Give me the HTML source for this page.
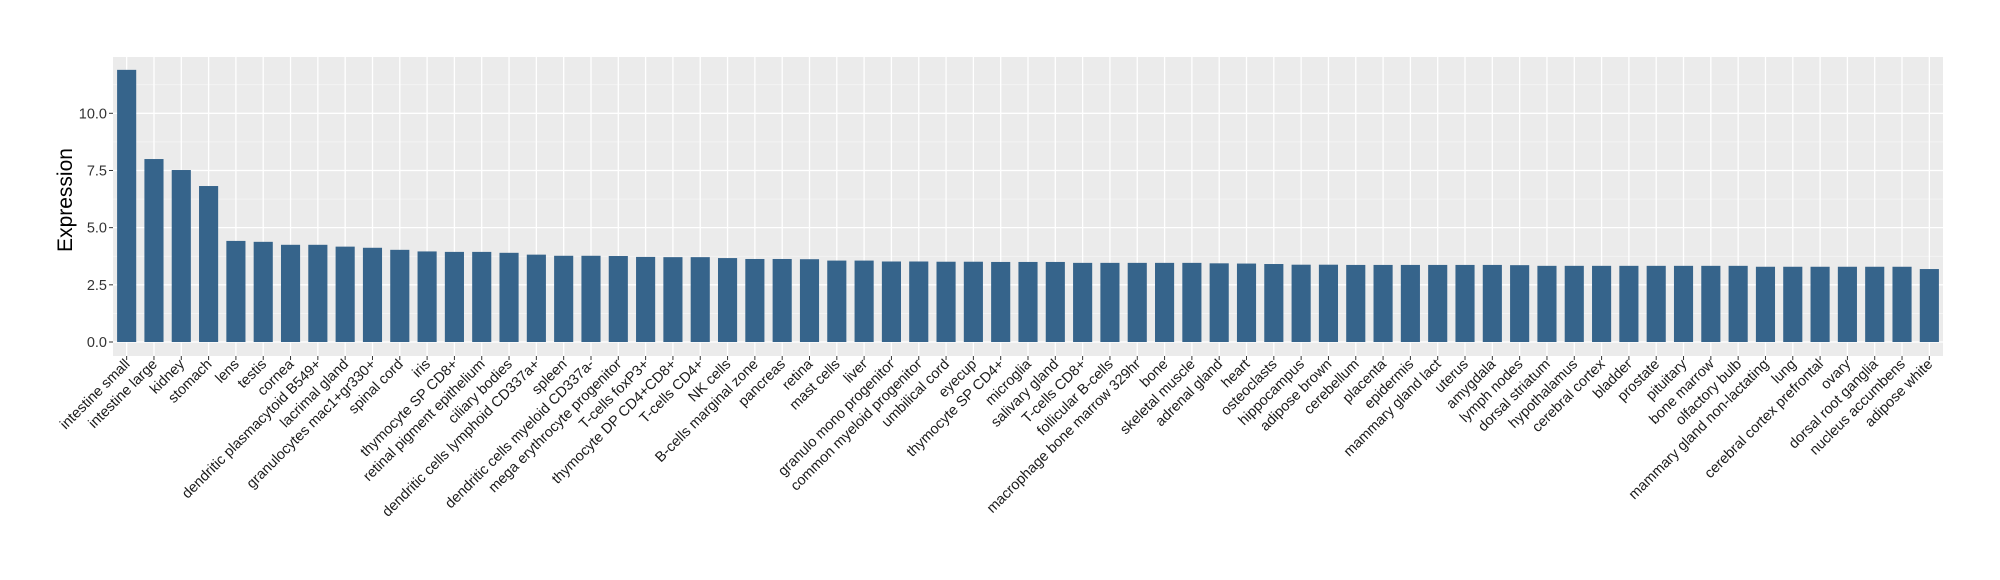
<!DOCTYPE html>
<html><head><meta charset="utf-8"><style>
html,body{margin:0;padding:0;background:#fff;}
svg{display:block;font-family:"Liberation Sans",Arial,sans-serif;}
</style></head><body>
<svg id="chart" width="2000" height="580" xmlns="http://www.w3.org/2000/svg">
<rect x="113" y="57" width="1830" height="299" fill="#ebebeb"/>
<g id="grid"></g>
<g id="bars"></g>
<g id="yaxis"></g>
<g id="xaxis"></g>
<text x="0" y="0" transform="translate(72,200) rotate(-90)" text-anchor="middle" font-size="21" fill="#000">Expression</text>
</svg>
<script>
const categories = ["intestine small","intestine large","kidney","stomach","lens","testis","cornea","dendritic plasmacytoid B549+","lacrimal gland","granulocytes mac1+gr330+","spinal cord","iris","thymocyte SP CD8+","retinal pigment epithelium","ciliary bodies","dendritic cells lymphoid CD337a+","spleen","dendritic cells myeloid CD337a-","mega erythrocyte progenitor","T-cells foxP3+","thymocyte DP CD4+CD8+","T-cells CD4+","NK cells","B-cells marginal zone","pancreas","retina","mast cells","liver","granulo mono progenitor","common myeloid progenitor","umbilical cord","eyecup","thymocyte SP CD4+","microglia","salivary gland","T-cells CD8+","follicular B-cells","macrophage bone marrow 329hr","bone","skeletal muscle","adrenal gland","heart","osteoclasts","hippocampus","adipose brown","cerebellum","placenta","epidermis","mammary gland  lact","uterus","amygdala","lymph nodes","dorsal striatum","hypothalamus","cerebral cortex","bladder","prostate","pituitary","bone marrow","olfactory bulb","mammary gland non-lactating","lung","cerebral cortex prefrontal","ovary","dorsal root ganglia","nucleus accumbens","adipose white"];
const values = [11.9,8.0,7.52,6.82,4.42,4.38,4.25,4.25,4.17,4.12,4.03,3.96,3.94,3.94,3.9,3.82,3.77,3.77,3.76,3.72,3.71,3.71,3.67,3.63,3.63,3.62,3.56,3.56,3.52,3.52,3.51,3.51,3.5,3.5,3.5,3.46,3.46,3.46,3.46,3.46,3.44,3.43,3.41,3.38,3.38,3.37,3.37,3.37,3.37,3.37,3.37,3.36,3.33,3.33,3.33,3.33,3.33,3.33,3.33,3.33,3.29,3.29,3.29,3.29,3.29,3.29,3.19];
const yTicks = [0,2.5,5,7.5,10];
const yTickLabels = ["0.0","2.5","5.0","7.5","10.0"];

const NS="http://www.w3.org/2000/svg";
const L=113,R=1943,T=57,B=356;
const y0px=342, pxPerUnit=22.87;
function y(v){return y0px - v*pxPerUnit;}
const band=(R-L)/categories.length;
function x(i){return L+band*(i+0.5);}
function mk(tag,attrs,parent){const e=document.createElementNS(NS,tag);for(const k in attrs)e.setAttribute(k,attrs[k]);parent.appendChild(e);return e;}
const grid=document.getElementById('grid'),bars=document.getElementById('bars'),ya=document.getElementById('yaxis'),xa=document.getElementById('xaxis');
// minor gridlines
for(let i=0;i<yTicks.length;i++){
  const m=yTicks[i]+1.25;
  if(y(m)>T){const g=mk('line',{x1:L,x2:R,y1:y(m),y2:y(m),stroke:'#f5f5f5','stroke-width':0.8},grid);
  
  }
}
yTicks.forEach((t,i)=>{
  const g=mk('line',{x1:L,x2:R,y1:y(t),y2:y(t),stroke:'#fff','stroke-width':1.3},grid);
  
  
  const tk=mk('line',{x1:L-4,x2:L,y1:y(t),y2:y(t),stroke:'#333','stroke-width':1},ya);
  
  
  const tx=mk('text',{x:L-6,y:y(t)+5,'text-anchor':'end','font-size':14.5,fill:'#333'},ya);
  
  
  tx.textContent=yTickLabels[i];
});
categories.forEach((c,i)=>{
  const cx=x(i);
  const gl=mk('line',{x1:cx,x2:cx,y1:T,y2:B,stroke:'#fff','stroke-width':1.3},grid);
  
  
  const w=band*0.7;
  const r=mk('rect',{x:cx-w/2,y:y(values[i]),width:w,height:y(0)-y(values[i]),fill:'#36648b'},bars);
  
  
  const tk=mk('line',{x1:cx,x2:cx,y1:B,y2:B+4,stroke:'#333','stroke-width':1},xa);
  
  
  const tx=mk('text',{x:0,y:0,transform:'translate('+(cx+4)+','+(B+9)+') rotate(-45)','text-anchor':'end','font-size':14.5,fill:'#1a1a1a'},xa);
  
  
  tx.textContent=c;
});
</script>
</body></html>
